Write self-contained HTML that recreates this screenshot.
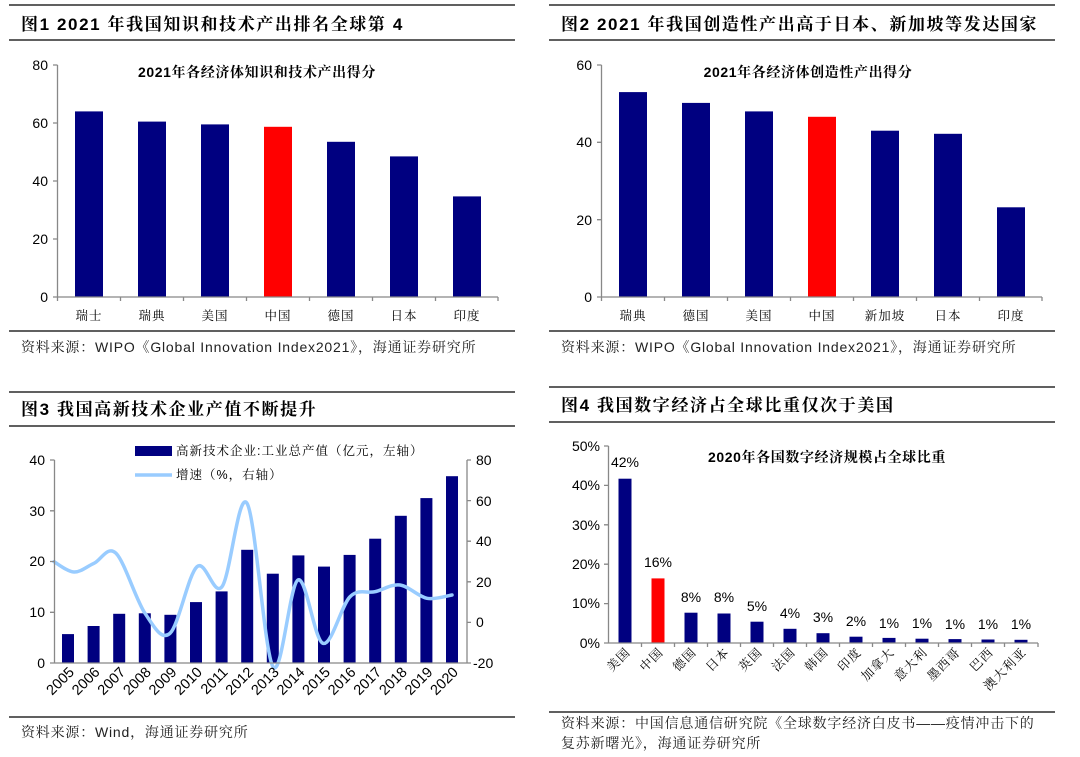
<!DOCTYPE html>
<html><head><meta charset="utf-8"><style>
body{margin:0;background:#fff}
svg{display:block}
text{font-family:"Liberation Sans","Noto Serif CJK SC",serif}
.h{font-size:17px;font-weight:bold;fill:#000;letter-spacing:1.6px}
.ct{font-size:14px;font-weight:bold;fill:#000;letter-spacing:0.6px}
.tk{font-size:14px;fill:#000;font-family:"Liberation Sans",sans-serif}
.yr{font-size:14.5px;fill:#000;font-family:"Liberation Sans",sans-serif}
.cl{font-size:12.5px;fill:#000;letter-spacing:1px}
.src{font-size:14px;fill:#222;letter-spacing:0.8px}
.ax{stroke:#888;stroke-width:1.3;fill:none}
</style></head><body>
<svg width="1080" height="757" viewBox="0 0 1080 757">
<!-- Panel 1 -->
<line x1="9" y1="5" x2="515" y2="5" stroke="#000" stroke-width="1.3"/>
<text class="h" x="21" y="30">图1  2021 年我国知识和技术产出排名全球第 4</text>
<line x1="9" y1="40" x2="515" y2="40" stroke="#000" stroke-width="1.3"/>
<text class="ct" x="257" y="77" text-anchor="middle">2021年各经济体知识和技术产出得分</text>
<g fill="#000080">
<rect x="75" y="111.4" width="28" height="185.6"/><rect x="138" y="121.6" width="28" height="175.4"/>
<rect x="201" y="124.4" width="28" height="172.6"/><rect x="264" y="126.8" width="28" height="170.2" fill="#f00"/>
<rect x="327" y="141.8" width="28" height="155.2"/><rect x="390" y="156.4" width="28" height="140.6"/>
<rect x="453" y="196.4" width="28" height="100.6"/></g>
<path class="ax" d="M57.5 65V297H498M53 65H57.5M53 123H57.5M53 181H57.5M53 239H57.5M53 297H57.5M57.5 297v4M120.5 297v4M183.5 297v4M246.5 297v4M309.5 297v4M372.5 297v4M435.5 297v4M498 297v4"/>
<g class="tk" text-anchor="end"><text x="48" y="70">80</text><text x="48" y="128">60</text><text x="48" y="186">40</text><text x="48" y="244">20</text><text x="48" y="302">0</text></g>
<g class="cl" text-anchor="middle"><text x="89" y="320">瑞士</text><text x="152" y="320">瑞典</text><text x="215" y="320">美国</text><text x="278" y="320">中国</text><text x="341" y="320">德国</text><text x="404" y="320">日本</text><text x="467" y="320">印度</text></g>
<line x1="9" y1="331" x2="515" y2="331" stroke="#000" stroke-width="1.3"/>
<text class="src" x="21" y="352">资料来源：WIPO《Global Innovation Index2021》，海通证券研究所</text>

<!-- Panel 2 -->
<line x1="549" y1="5" x2="1055" y2="5" stroke="#000" stroke-width="1.3"/>
<text class="h" x="561" y="30">图2  2021 年我国创造性产出高于日本、新加坡等发达国家</text>
<line x1="549" y1="40" x2="1055" y2="40" stroke="#000" stroke-width="1.3"/>
<text class="ct" x="808" y="77" text-anchor="middle">2021年各经济体创造性产出得分</text>
<g fill="#000080">
<rect x="619" y="92.1" width="28" height="204.9"/><rect x="682" y="102.9" width="28" height="194.1"/>
<rect x="745" y="111.4" width="28" height="185.6"/><rect x="808" y="116.8" width="28" height="180.2" fill="#f00"/>
<rect x="871" y="130.7" width="28" height="166.3"/><rect x="934" y="133.8" width="28" height="163.2"/>
<rect x="997" y="207.3" width="28" height="89.7"/></g>
<path class="ax" d="M601.5 65V297H1042M597 65H601.5M597 142.3H601.5M597 219.7H601.5M597 297H601.5M601.5 297v4M664.5 297v4M727.5 297v4M790.5 297v4M853.5 297v4M916.5 297v4M979.5 297v4M1042 297v4"/>
<g class="tk" text-anchor="end"><text x="592" y="70">60</text><text x="592" y="147">40</text><text x="592" y="225">20</text><text x="592" y="302">0</text></g>
<g class="cl" text-anchor="middle"><text x="633" y="320">瑞典</text><text x="696" y="320">德国</text><text x="759" y="320">美国</text><text x="822" y="320">中国</text><text x="885" y="320">新加坡</text><text x="948" y="320">日本</text><text x="1011" y="320">印度</text></g>
<line x1="549" y1="331" x2="1055" y2="331" stroke="#000" stroke-width="1.3"/>
<text class="src" x="561" y="352">资料来源：WIPO《Global Innovation Index2021》，海通证券研究所</text>

<!-- Panel 3 -->
<line x1="9" y1="392" x2="515" y2="392" stroke="#000" stroke-width="1.3"/>
<text class="h" x="21" y="415">图3  我国高新技术企业产值不断提升</text>
<line x1="9" y1="426" x2="515" y2="426" stroke="#000" stroke-width="1.3"/>
<g fill="#000080">
<rect x="62" y="634.1" width="12" height="28.9"/><rect x="87.6" y="626" width="12" height="37"/>
<rect x="113.2" y="613.8" width="12" height="49.2"/><rect x="138.8" y="613.3" width="12" height="49.7"/>
<rect x="164.4" y="614.8" width="12" height="48.2"/><rect x="190" y="602.1" width="12" height="60.9"/>
<rect x="215.6" y="591.4" width="12" height="71.6"/><rect x="241.2" y="549.8" width="12" height="113.2"/>
<rect x="266.8" y="573.7" width="12" height="89.3"/><rect x="292.4" y="555.4" width="12" height="107.6"/>
<rect x="318" y="566.6" width="12" height="96.4"/><rect x="343.6" y="554.9" width="12" height="108.1"/>
<rect x="369.2" y="538.7" width="12" height="124.3"/><rect x="394.8" y="515.8" width="12" height="147.2"/>
<rect x="420.4" y="498.1" width="12" height="164.9"/><rect x="446" y="476.2" width="12" height="186.8"/></g>
<path id="gl" d="" fill="none" stroke="#99CCFF" stroke-width="3.5" stroke-linejoin="round" stroke-linecap="round"/>
<path class="ax" d="M54.5 460V663H467M467 460V663M50 460H54.5M50 510.8H54.5M50 561.5H54.5M50 612.3H54.5M50 663H54.5M467 460h4M467 500.6h4M467 541.2h4M467 581.8h4M467 622.4h4M467 663h4"/>
<g class="tk" text-anchor="end"><text x="45" y="465">40</text><text x="45" y="516">30</text><text x="45" y="566">20</text><text x="45" y="617">10</text><text x="45" y="668">0</text></g>
<g class="tk"><text x="476" y="465">80</text><text x="476" y="506">60</text><text x="476" y="546">40</text><text x="476" y="587">20</text><text x="476" y="627">0</text><text x="473" y="668">-20</text></g>
<rect x="135" y="446" width="37" height="10" fill="#000080"/>
<text class="cl" x="176" y="455">高新技术企业:工业总产值（亿元，左轴）</text>
<line x1="135" y1="475" x2="172" y2="475" stroke="#99CCFF" stroke-width="3.5"/>
<text class="cl" x="176" y="479">增速（%，右轴）</text>
<g class="yr" text-anchor="end">
<text transform="translate(75,673) rotate(-45)">2005</text><text transform="translate(100.6,673) rotate(-45)">2006</text>
<text transform="translate(126.2,673) rotate(-45)">2007</text><text transform="translate(151.8,673) rotate(-45)">2008</text>
<text transform="translate(177.4,673) rotate(-45)">2009</text><text transform="translate(203,673) rotate(-45)">2010</text>
<text transform="translate(228.6,673) rotate(-45)">2011</text><text transform="translate(254.2,673) rotate(-45)">2012</text>
<text transform="translate(279.8,673) rotate(-45)">2013</text><text transform="translate(305.4,673) rotate(-45)">2014</text>
<text transform="translate(331,673) rotate(-45)">2015</text><text transform="translate(356.6,673) rotate(-45)">2016</text>
<text transform="translate(382.2,673) rotate(-45)">2017</text><text transform="translate(407.8,673) rotate(-45)">2018</text>
<text transform="translate(433.4,673) rotate(-45)">2019</text><text transform="translate(459,673) rotate(-45)">2020</text></g>
<line x1="9" y1="717" x2="515" y2="717" stroke="#000" stroke-width="1.3"/>
<text class="src" x="21" y="737">资料来源：Wind，海通证券研究所</text>

<!-- Panel 4 -->
<line x1="549" y1="387" x2="1055" y2="387" stroke="#000" stroke-width="1.3"/>
<text class="h" x="561" y="411">图4  我国数字经济占全球比重仅次于美国</text>
<line x1="549" y1="422" x2="1055" y2="422" stroke="#000" stroke-width="1.3"/>
<text class="ct" x="827" y="462" text-anchor="middle">2020年各国数字经济规模占全球比重</text>
<g fill="#000080">
<rect x="618.5" y="478.7" width="13" height="164.3"/><rect x="651.5" y="578.4" width="13" height="64.6" fill="#f00"/>
<rect x="684.5" y="612.7" width="13" height="30.3"/><rect x="717.5" y="613.5" width="13" height="29.5"/>
<rect x="750.5" y="621.7" width="13" height="21.3"/><rect x="783.5" y="628.8" width="13" height="14.2"/>
<rect x="816.5" y="633.2" width="13" height="9.8"/><rect x="849.5" y="636.7" width="13" height="6.3"/>
<rect x="882.5" y="637.9" width="13" height="5.1"/><rect x="915.5" y="638.7" width="13" height="4.3"/>
<rect x="948.5" y="639.1" width="13" height="3.9"/><rect x="981.5" y="639.5" width="13" height="3.5"/>
<rect x="1014.5" y="639.8" width="13" height="3.2"/></g>
<path class="ax" d="M608.5 446V643H1038M604 446H608.5M604 485.4H608.5M604 524.8H608.5M604 564.2H608.5M604 603.6H608.5M604 643H608.5M641.5 643v4M674.5 643v4M707.5 643v4M740.5 643v4M773.5 643v4M806.5 643v4M839.5 643v4M872.5 643v4M905.5 643v4M938.5 643v4M971.5 643v4M1004.5 643v4M1038 643v4"/>
<g class="tk" text-anchor="end"><text x="600" y="451">50%</text><text x="600" y="490">40%</text><text x="600" y="530">30%</text><text x="600" y="569">20%</text><text x="600" y="608">10%</text><text x="600" y="648">0%</text></g>
<g class="tk" text-anchor="middle">
<text x="625" y="467">42%</text><text x="658" y="567">16%</text><text x="691" y="602">8%</text><text x="724" y="602">8%</text>
<text x="757" y="611">5%</text><text x="790" y="618">4%</text><text x="823" y="622">3%</text><text x="856" y="626">2%</text>
<text x="889" y="628">1%</text><text x="922" y="628">1%</text><text x="955" y="629">1%</text><text x="988" y="629">1%</text><text x="1021" y="629">1%</text></g>
<g class="cl" text-anchor="end">
<text transform="translate(631,653) rotate(-45)">美国</text><text transform="translate(664,653) rotate(-45)">中国</text>
<text transform="translate(697,653) rotate(-45)">德国</text><text transform="translate(730,653) rotate(-45)">日本</text>
<text transform="translate(763,653) rotate(-45)">英国</text><text transform="translate(796,653) rotate(-45)">法国</text>
<text transform="translate(829,653) rotate(-45)">韩国</text><text transform="translate(862,653) rotate(-45)">印度</text>
<text transform="translate(895,653) rotate(-45)">加拿大</text><text transform="translate(928,653) rotate(-45)">意大利</text>
<text transform="translate(961,653) rotate(-45)">墨西哥</text><text transform="translate(994,653) rotate(-45)">巴西</text>
<text transform="translate(1027,653) rotate(-45)">澳大利亚</text></g>
<line x1="549" y1="712" x2="1055" y2="712" stroke="#000" stroke-width="1.3"/>
<text class="src" x="561" y="728">资料来源：中国信息通信研究院《全球数字经济白皮书——疫情冲击下的</text>
<text class="src" x="561" y="748">复苏新曙光》，海通证券研究所</text>
</svg>
<script>
var P=[[54,561.7],[74,572],[94,563.3],[116,553.3],[145,613.3],[170,633.3],[197,566.7],[222,586.7],[247,503.3],[273,666.7],[298,580],[323,643.3],[350,596.7],[375,591.7],[400,585],[427,598.3],[452,595]];
var d="M"+P[0][0]+" "+P[0][1];
for(var i=0;i<P.length-1;i++){var a=P[Math.max(i-1,0)],b=P[i],c=P[i+1],e=P[Math.min(i+2,P.length-1)];
d+=" C"+(b[0]+(c[0]-a[0])/6).toFixed(1)+" "+(b[1]+(c[1]-a[1])/6).toFixed(1)+" "+(c[0]-(e[0]-b[0])/6).toFixed(1)+" "+(c[1]-(e[1]-b[1])/6).toFixed(1)+" "+c[0]+" "+c[1];}
document.getElementById("gl").setAttribute("d",d);
</script>
</body></html>
